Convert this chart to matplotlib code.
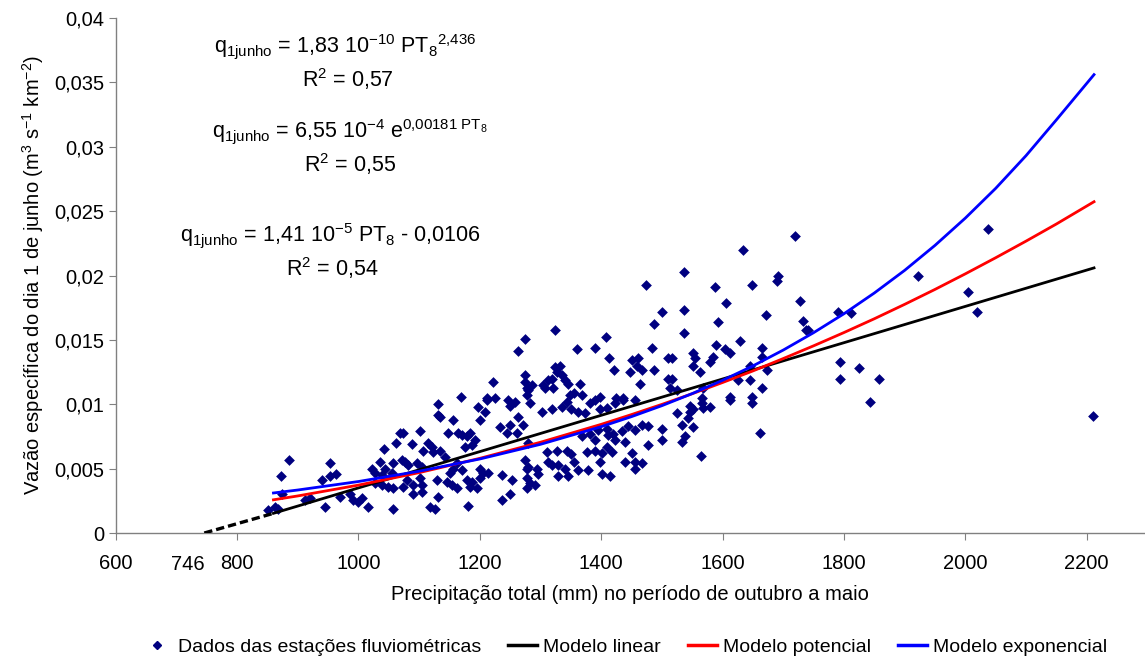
import numpy as np
import matplotlib
matplotlib.use("Agg")
import matplotlib.pyplot as plt
from matplotlib.lines import Line2D
from matplotlib.ticker import FuncFormatter

plt.rcParams['font.family'] = ['Liberation Sans', 'DejaVu Sans']
plt.rcParams['mathtext.fontset'] = 'custom'
plt.rcParams['mathtext.rm'] = 'Liberation Sans'
plt.rcParams['mathtext.it'] = 'Liberation Sans'
plt.rcParams['mathtext.default'] = 'regular'

# precipitacao total (mm) e vazao especifica (m3 s-1 km-2)
precip = [
    885, 873, 953, 963, 954, 940, 1042, 1062, 1035, 1057, 1044, 1022, 1027, 1039, 1055,
    1027, 1039, 1049, 1057, 970, 986, 991, 1006, 999, 945, 1016, 1057, 912, 920, 862,
    867, 851, 874, 1068,
    1131, 1131, 1134, 1073, 1101, 1088, 1156, 1164, 1171, 1179, 1184, 1192, 1187, 1175,
    1147, 1114, 1121, 1106, 1123, 1134, 1072, 1077, 1082, 1096, 1105, 1143, 1162, 1156,
    1151, 1171, 1200, 1205, 1200, 1213, 1080, 1101, 1105, 1090, 1129, 1146, 1154, 1162,
    1179, 1187, 1184, 1195, 1236, 1253, 1278, 1279, 1073, 1105, 1090, 1131, 1236, 1250,
    1118, 1126, 1180, 1283, 1278, 1233, 1250, 1261, 1271, 1263, 1245, 1200, 1208, 1197,
    1212, 1283, 1258, 1250, 1279, 1274, 1278,
    1302, 1319, 1335, 1343, 1351, 1361, 1373, 1381, 1389, 1398, 1409, 1423, 1436, 1456,
    1368, 1381, 1394, 1409, 1419, 1434, 1444, 1456, 1467, 1477, 1500, 1500, 1477, 1439,
    1423, 1411, 1389, 1310, 1327, 1343, 1351, 1376, 1389, 1401, 1409, 1418, 1439, 1451,
    1456, 1467, 1312, 1319, 1329, 1340, 1356, 1361, 1378, 1398, 1294, 1296, 1329, 1345,
    1401, 1414, 1456, 1291,
    1525, 1546, 1546, 1543, 1551, 1566, 1567, 1579, 1533, 1551, 1538, 1533, 1564, 1648,
    1661, 1612,
    1274, 1263, 1222, 1274, 1274, 1278, 1279, 1286, 1169, 1212, 1225, 1246, 1278,
    1474, 1500, 1487, 1324, 1408, 1360, 1390, 1484, 1413, 1421, 1451, 1460, 1459, 1467,
    1447, 1487, 1510, 1464, 1324, 1332, 1327, 1335, 1340, 1345, 1319, 1312, 1304, 1307,
    1320, 1365, 1348, 1356, 1369, 1398, 1424, 1436, 1510, 1514,
    1587, 1648, 1536, 1605, 1727, 1671, 1592, 1732, 1536, 1628, 1589, 1604, 1612, 1665,
    1551, 1554, 1551, 1584, 1579, 1665, 1673, 1517, 1562, 1517, 1645, 1625, 1645, 1665,
    1568, 1525, 1612, 1648, 1566, 1689,
    2210, 2037, 1922, 2004, 2019, 1811, 1790, 1793, 1793, 1825, 1858, 1843, 1719, 1634,
    1691, 1536, 1737, 1740,
]
vazao = [
    0.0057, 0.0044, 0.0054, 0.0046, 0.0044, 0.0041, 0.0065, 0.0070, 0.0055, 0.0054, 0.0050, 0.0050, 0.0047, 0.0045, 0.0047,
    0.0039, 0.0037, 0.0036, 0.0035, 0.0028, 0.0030, 0.0026, 0.0027, 0.0024, 0.0020, 0.0020, 0.0019, 0.0026, 0.0027, 0.0020,
    0.0019, 0.0018, 0.0030, 0.0078,
    0.0100, 0.0092, 0.0090, 0.0078, 0.0079, 0.0069, 0.0088, 0.0078, 0.0076, 0.0075, 0.0078, 0.0072, 0.0068, 0.0067,
    0.0078, 0.0070, 0.0067, 0.0064, 0.0063, 0.0064, 0.0057, 0.0055, 0.0053, 0.0054, 0.0051, 0.0059, 0.0054, 0.0050,
    0.0047, 0.0049, 0.0050, 0.0047, 0.0043, 0.0047, 0.0041, 0.0043, 0.0037, 0.0037, 0.0041, 0.0040, 0.0037, 0.0035,
    0.0041, 0.0040, 0.0036, 0.0035, 0.0045, 0.0041, 0.0043, 0.0051, 0.0036, 0.0032, 0.0030, 0.0028, 0.0026, 0.0030,
    0.0020, 0.0019, 0.0021, 0.0039, 0.0035, 0.0082, 0.0084, 0.0078, 0.0084, 0.0090, 0.0078, 0.0088, 0.0094, 0.0098,
    0.0103, 0.0101, 0.0102, 0.0099, 0.0070, 0.0057, 0.0050,
    0.0094, 0.0096, 0.0098, 0.0102, 0.0096, 0.0094, 0.0093, 0.0101, 0.0103, 0.0096, 0.0097, 0.0101, 0.0103, 0.0103,
    0.0075, 0.0077, 0.0080, 0.0081, 0.0077, 0.0079, 0.0083, 0.0080, 0.0084, 0.0083, 0.0081, 0.0072, 0.0068, 0.0071,
    0.0072, 0.0076, 0.0072, 0.0063, 0.0064, 0.0064, 0.0061, 0.0063, 0.0064, 0.0062, 0.0067, 0.0063, 0.0055, 0.0062,
    0.0055, 0.0054, 0.0055, 0.0053, 0.0053, 0.0050, 0.0055, 0.0049, 0.0049, 0.0055, 0.0050, 0.0046, 0.0044, 0.0044,
    0.0046, 0.0044, 0.0050, 0.0037,
    0.0093, 0.0099, 0.0094, 0.0089, 0.0096, 0.0101, 0.0097, 0.0098, 0.0084, 0.0082, 0.0075, 0.0071, 0.0060, 0.0101,
    0.0078, 0.0103,
    0.0151, 0.0141, 0.0117, 0.0123, 0.0117, 0.0113, 0.0111, 0.0115, 0.0106, 0.0105, 0.0105, 0.0103, 0.0107,
    0.0193, 0.0172, 0.0162, 0.0158, 0.0152, 0.0143, 0.0144, 0.0144, 0.0136, 0.0127, 0.0134, 0.0136, 0.0130, 0.0127,
    0.0125, 0.0127, 0.0136, 0.0116, 0.0129, 0.0130, 0.0125, 0.0123, 0.0119, 0.0116, 0.0120, 0.0119, 0.0115, 0.0113,
    0.0113, 0.0116, 0.0107, 0.0109, 0.0107, 0.0106, 0.0105, 0.0105, 0.0120, 0.0113,
    0.0191, 0.0193, 0.0173, 0.0179, 0.0180, 0.0169, 0.0164, 0.0165, 0.0155, 0.0149, 0.0146, 0.0143, 0.0140, 0.0144,
    0.0140, 0.0136, 0.0130, 0.0137, 0.0133, 0.0137, 0.0127, 0.0136, 0.0125, 0.0120, 0.0130, 0.0119, 0.0119, 0.0113,
    0.0113, 0.0111, 0.0106, 0.0106, 0.0105, 0.0196,
    0.0091, 0.0236, 0.0200, 0.0187, 0.0172, 0.0171, 0.0172, 0.0133, 0.0120, 0.0128, 0.0120, 0.0102, 0.0231, 0.0220,
    0.0200, 0.0203, 0.0158, 0.0158,
]

# curvas dos modelos ajustados (valores lidos ao longo das curvas)
pt_curva = [860, 900, 1000, 1100, 1200, 1300, 1400, 1450, 1500, 1550, 1600, 1650, 1700,
            1750, 1800, 1850, 1900, 1950, 2000, 2050, 2100, 2150, 2212]
q_potencial = [0.00258, 0.00288, 0.00372, 0.00469, 0.00580, 0.00705, 0.00844, 0.00920, 0.00999,
               0.01082, 0.01169, 0.01259, 0.01355, 0.01454, 0.01557, 0.01664, 0.01776, 0.01892,
               0.02013, 0.02138, 0.02267, 0.02400, 0.02573]
q_exponencial = [0.00311, 0.00334, 0.00400, 0.00480, 0.00575, 0.00689, 0.00826, 0.00904, 0.00989,
                 0.01083, 0.01186, 0.01298, 0.01421, 0.01556, 0.01703, 0.01864, 0.02040, 0.02234,
                 0.02446, 0.02677, 0.02931, 0.03209, 0.03560]
pt_linear = [860, 2212]
q_linear = [0.00153, 0.02059]
pt_extrap = [746, 860]
q_extrap = [0.0, 0.00153]

fig = plt.figure(figsize=(11.45, 6.61), dpi=100)
ax = fig.add_axes([0.101, 0.1936, 0.899, 0.7792])

navy = '#000080'
ax.scatter(precip, vazao, marker='D', s=30, color=navy, linewidths=0, zorder=2)
ax.plot(pt_extrap, q_extrap, color='black', lw=2.4, ls=(0, (2.5, 1.2)), zorder=3)
ax.plot(pt_linear, q_linear, color='black', lw=2.0, zorder=3)
ax.plot(pt_curva, q_potencial, color='#ff0000', lw=2.0, zorder=3)
ax.plot(pt_curva, q_exponencial, color='#0000ff', lw=2.0, zorder=3)

ax.set_xlim(600, 2296)
ax.set_ylim(0, 0.04)
ax.set_xticks([600, 800, 1000, 1200, 1400, 1600, 1800, 2000, 2200])
ax.set_xticks([746], minor=True)
ax.set_xticklabels(['746'], minor=True, ha='right')
ax.set_yticks(np.arange(0, 0.0401, 0.005))
ax.yaxis.set_major_formatter(FuncFormatter(lambda v, p: ('%g' % round(v, 4)).replace('.', ',')))

gray = '#808080'
for s in ['top', 'right']:
    ax.spines[s].set_visible(False)
for s in ['left', 'bottom']:
    ax.spines[s].set_color(gray)
    ax.spines[s].set_linewidth(1.0)
tfs = 14.5
ax.tick_params(axis='both', which='major', direction='out', length=5, color=gray, labelsize=tfs)
ax.tick_params(axis='y', which='major', pad=3)
ax.tick_params(axis='x', which='major', pad=10)
ax.tick_params(axis='x', which='minor', length=0, labelsize=tfs, pad=16)

ax.set_xlabel('Precipitação total (mm) no período de outubro a maio', fontsize=14.5, labelpad=8)
ax.set_ylabel(r'Vazão específica do dia 1 de junho (m$^3$ s$^{-1}$ km$^{-2}$)', fontsize=14.5, labelpad=6)

fs = 15.5
fig.text(345 / 1145, 1 - 47 / 661, r'q$_{1junho}$ = 1,83 10$^{-10}$ PT$_8$$^{2{,}436}$', fontsize=fs, ha='center', va='center')
fig.text(348 / 1145, 1 - 79 / 661, r'R$^2$ = 0,57', fontsize=fs, ha='center', va='center')
fig.text(350 / 1145, 1 - 132 / 661, r'q$_{1junho}$ = 6,55 10$^{-4}$ e$^{0{,}00181\ PT_8}$', fontsize=fs, ha='center', va='center')
fig.text(350 / 1145, 1 - 164 / 661, r'R$^2$ = 0,55', fontsize=fs, ha='center', va='center')
fig.text(330 / 1145, 1 - 236 / 661, r'q$_{1junho}$ = 1,41 10$^{-5}$ PT$_8$ - 0,0106', fontsize=fs, ha='center', va='center')
fig.text(332 / 1145, 1 - 268 / 661, r'R$^2$ = 0,54', fontsize=fs, ha='center', va='center')

handles = [
    Line2D([], [], marker='D', color=navy, ls='none', markersize=4.5),
    Line2D([], [], color='black', lw=2.5),
    Line2D([], [], color='#ff0000', lw=2.5),
    Line2D([], [], color='#0000ff', lw=2.5),
]
labels = ['Dados das estações fluviométricas', 'Modelo linear', 'Modelo potencial', 'Modelo exponencial']
fig.legend(handles, labels, loc='center', bbox_to_anchor=(625 / 1145, 1 - 647 / 661), ncol=4,
           frameon=False, fontsize=14, handlelength=1.5, handletextpad=0.3, columnspacing=1.4)

fig.savefig('out.png', dpi=100)
